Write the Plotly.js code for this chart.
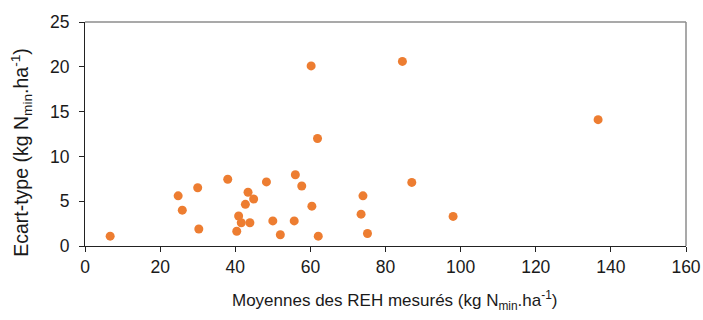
<!DOCTYPE html>
<html>
<head>
<meta charset="utf-8">
<script src="https://cdn.plot.ly/plotly-3.0.1.min.js"></script>
<style>
  html, body { margin: 0; padding: 0; background: #fff; }
  #chart { width: 703px; height: 320px; }
</style>
</head>
<body>
<div id="chart"></div>
<script>
// Mean measured REH (kg Nmin/ha) per site
const moyennes = [6.7, 24.8, 25.9, 30.0, 30.3, 38.0, 40.4, 40.9, 41.6, 42.7,
  43.4, 43.9, 44.9, 48.3, 50.0, 52.0, 55.7, 56.0, 57.7, 60.2,
  60.4, 61.9, 62.1, 73.5, 74.0, 75.2, 84.5, 87.0, 98.0, 136.6];
// Standard deviation (kg Nmin/ha) per site
const ecartTypes = [1.1, 5.6, 4.0, 6.5, 1.9, 7.45, 1.65, 3.35, 2.6, 4.65,
  6.0, 2.6, 5.25, 7.15, 2.8, 1.25, 2.8, 7.95, 6.7, 20.1,
  4.45, 12.0, 1.1, 3.55, 5.6, 1.4, 20.6, 7.1, 3.3, 14.1];

const xTicks = [0, 20, 40, 60, 80, 100, 120, 140, 160];
const yTicks = [0, 5, 10, 15, 20, 25];

const family = 'Liberation Sans, Arial, sans-serif';
const tickFont = { family: family, size: 17.5, color: '#1a1a1a' };
const xTitleFont = { family: family, size: 17, color: '#1a1a1a' };
const yTitleFont = { family: family, size: 19.5, color: '#1a1a1a' };

const trace = {
  x: moyennes,
  y: ecartTypes,
  type: 'scatter',
  mode: 'markers',
  marker: { color: '#ed7d31', size: 9 },
  hoverinfo: 'x+y'
};

const layout = {
  width: 703,
  height: 320,
  margin: { l: 85, r: 17, t: 22, b: 74 },
  paper_bgcolor: '#ffffff',
  plot_bgcolor: '#ffffff',
  font: tickFont,
  showlegend: false,
  xaxis: {
    range: [0, 160],
    tickvals: xTicks,
    ticktext: xTicks.map(String),
    showgrid: false,
    zeroline: false,
    showline: true,
    linecolor: '#222',
    linewidth: 1,
    ticks: 'outside',
    ticklen: 5,
    tickcolor: '#222',
    tickfont: tickFont
  },
  yaxis: {
    range: [0, 25],
    tickvals: yTicks,
    ticktext: yTicks.map(String),
    showgrid: false,
    zeroline: false,
    showline: true,
    linecolor: '#222',
    linewidth: 1,
    ticks: 'outside',
    ticklen: 5,
    ticklabelstandoff: 6,
    tickcolor: '#222',
    tickfont: tickFont
  },
  annotations: [
    // x-axis title
    {
      text: 'Moyennes des REH mesurés (kg N<sub>min</sub>.ha<sup>-1</sup>)',
      xref: 'paper', yref: 'paper',
      x: 0.516, y: -0.245,
      xanchor: 'center', yanchor: 'middle',
      showarrow: false,
      font: xTitleFont
    },
    // y-axis title
    {
      text: 'Ecart-type (kg N<sub>min</sub>.ha<sup>-1</sup>)',
      xref: 'paper', yref: 'paper',
      x: -0.105, y: 0.42,
      xanchor: 'center', yanchor: 'middle',
      textangle: -90,
      showarrow: false,
      font: yTitleFont
    }
  ],
  shapes: [
    // top and right frame edges in grey
    { type: 'line', xref: 'paper', yref: 'paper', x0: 0, x1: 1, y0: 1, y1: 1,
      line: { color: '#8c8c8c', width: 1.5 } },
    { type: 'line', xref: 'paper', yref: 'paper', x0: 1, x1: 1, y0: 0, y1: 1,
      line: { color: '#8c8c8c', width: 1.5 } }
  ]
};

Plotly.newPlot('chart', [trace], layout, { displayModeBar: false, staticPlot: true });
</script>
</body>
</html>
